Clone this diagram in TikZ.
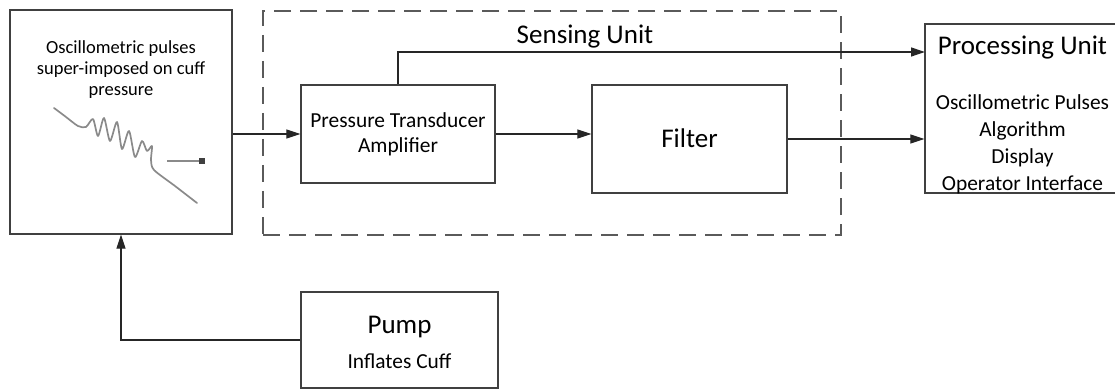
\documentclass[tikz,border=0pt]{standalone}
\usepackage{fontspec}
\setmainfont{Carlito}
\usetikzlibrary{arrows.meta,calc}
\definecolor{boxgray}{HTML}{404040}
\definecolor{dashgray}{HTML}{5A5A5A}
\definecolor{wavegray}{HTML}{8A8A8A}

\begin{document}
\begin{tikzpicture}[x=1pt,y=-1pt,
  box/.style={draw=boxgray, line width=1.3pt, rectangle, inner sep=0pt},
  arr/.style={draw=black!85, line width=1.2pt, -{Triangle[length=14pt,width=9pt]}},
  lbl/.style={anchor=base, inner sep=0pt, text=black},
  fsmall/.style={font=\fontsize{18.5}{21}\selectfont},
  fmid/.style={font=\fontsize{21.4}{25}\selectfont},
  fhuge/.style={font=\fontsize{27}{32}\selectfont},
]
\useasboundingbox (0,0) rectangle (1115,390);
\clip (0,0) rectangle (1115,390);

% sensing unit frame
\node[draw=dashgray, line width=1.4pt, dash pattern=on 17pt off 9pt,
      minimum width=578pt, minimum height=224pt, inner sep=0pt] (sense) at (552,123) {};
\node[lbl, fhuge] (sensetitle) at (585,44) {Sensing Unit};

% cuff block
\node[box, minimum width=222pt, minimum height=224pt] (cuff) at (121,122) {};
\node[lbl, fsmall] (cuff1) at (121,54) {Oscillometric pulses};
\node[lbl, fsmall] (cuff2) at (121,75) {super-imposed on cuff};
\node[lbl, fsmall] (cuff3) at (121,96) {pressure};

% pressure trace sketch
\draw[wavegray, line width=1.7pt, line join=round, line cap=round]
  plot[smooth, tension=0.45] coordinates {
    (54,108) (66,117) (78,126) (86,127) (93,119) (98,136) (104,118)
    (110,141) (117,122) (122,149) (129,131) (135,157) (142,141)
    (147,151) (152,146) (151,160) (154,170) (175,186) (197,203)};
\draw[wavegray, line width=1.1pt] (167,161) -- (200,161);
\fill[black!75] (199,158) rectangle (205,164);

% transducer and filter
\node[box, minimum width=194pt, minimum height=98pt] (pt) at (398,134) {};
\node[lbl, fmid] (pt1) at (398,128) {Pressure Transducer};
\node[lbl, fmid] (pt2) at (398,153) {Amplifier};

\node[box, minimum width=195pt, minimum height=108pt] (filter) at (689.5,139) {};
\node[lbl, fhuge] (filtertext) at (689.5,148) {Filter};

% processing unit
\node[box, minimum width=195pt, minimum height=169pt] (proc) at (1022.5,108.5) {};
\node[lbl, fhuge] (proctitle) at (1022.5,55) {Processing Unit};
\node[lbl, fmid] (proc1) at (1022.5,110) {Oscillometric Pulses};
\node[lbl, fmid] (proc2) at (1022.5,136.7) {Algorithm};
\node[lbl, fmid] (proc3) at (1022.5,163.3) {Display};
\node[lbl, fmid] (proc4) at (1022.5,190) {Operator Interface};

% pump
\node[box, minimum width=197pt, minimum height=96pt] (pump) at (399.5,340) {};
\node[lbl, fhuge] (pump1) at (399.5,333) {Pump};
\node[lbl, fmid] (pump2) at (399.5,368) {Inflates Cuff};

% signal paths
\coordinate (rawin) at (925,52);
\draw[arr] (cuff.east |- pt.west) -- (pt.west);
\draw[arr] (pt.east) -- (pt.east -| filter.west);
\draw[arr] (filter.east) -- (filter.east -| proc.west);
\draw[arr] (pt.north) |- (rawin);
\draw[arr] (pump.west) -| (cuff.south);
\end{tikzpicture}
\end{document}
